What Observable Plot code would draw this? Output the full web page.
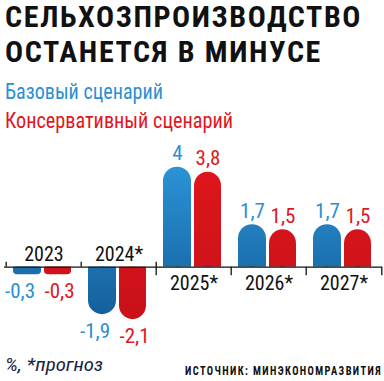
<!DOCTYPE html>
<html><head><meta charset="utf-8">
<script src="https://cdn.jsdelivr.net/npm/d3@7"></script>
<script src="https://cdn.jsdelivr.net/npm/@observablehq/plot@0.6"></script>
<style>
html,body{margin:0;padding:0;background:#fff;}
#wrap{position:relative;width:384px;height:381px;font-family:"Roboto Condensed","Liberation Sans Narrow",Roboto,sans-serif;}
#chart svg{position:absolute;left:0;top:0;}
.t{position:absolute;white-space:nowrap;line-height:1;transform-origin:left top;}
#t1,#t2{left:5px;font-size:30px;font-weight:700;letter-spacing:0.5px;color:#111;}
#t1{top:1.5px;} #t2{top:36.5px;}
#l1{left:5px;top:81px;font-size:22px;color:#2b8fd3;}
#l2{left:5px;top:110px;font-size:22px;color:#e2161d;}
#f1{left:5px;top:356px;font-size:18px;font-style:italic;color:#1b2440;}
#f2{left:185px;top:365px;font-size:12px;font-weight:700;letter-spacing:1.6px;color:#111;}
</style></head><body>
<div id="wrap">
  <div id="chart"></div>
  <div class="t" id="t1">СЕЛЬХОЗПРОИЗВОДСТВО</div>
  <div class="t" id="t2">ОСТАНЕТСЯ В МИНУСЕ</div>
  <div class="t" id="l1">Базовый сценарий</div>
  <div class="t" id="l2">Консервативный сценарий</div>
  <div class="t" id="f1">%, *прогноз</div>
  <div class="t" id="f2">ИСТОЧНИК: МИНЭКОНОМРАЗВИТИЯ</div>
</div>
<script>
const years = ["2023", "2024", "2025", "2026", "2027"];
const yearLabels = ["2023", "2024*", "2025*", "2026*", "2027*"];
const baseValues = [-0.3, -1.9, 4, 1.7, 1.7];
const consValues = [-0.3, -2.1, 3.8, 1.5, 1.5];

const F = "'Roboto Condensed','Liberation Sans Narrow',Roboto,sans-serif";
const fmt = v => String(v).replace(".", ",");
const base = years.map((year, i) => ({year, v: baseValues[i]}));
const cons = years.map((year, i) => ({year, v: consValues[i]}));
const cats = years.map((year, i) => ({year, label: yearLabels[i], v: baseValues[i]}));

const W = 384, H = 381, ML = 4, MR = 2;
const bw = (W - ML - MR) / years.length;

const bounds = d3.range(years.length + 1).map(b => {
  const adj = [baseValues[b - 1], baseValues[b]].filter(v => v !== undefined);
  return {year: years[Math.min(b, years.length - 1)], last: b === years.length,
          up: adj.some(v => v < 0), down: adj.some(v => v > 0)};
});

const defs = () => {
  const ns = "http://www.w3.org/2000/svg";
  const d = document.createElementNS(ns, "defs");
  d.innerHTML =
    '<linearGradient id="gBlue" gradientUnits="userSpaceOnUse" x1="0" y1="160" x2="0" y2="325">' +
    '<stop offset="0" stop-color="#2c95d8"/><stop offset="1" stop-color="#135c97"/></linearGradient>' +
    '<linearGradient id="gRed" gradientUnits="userSpaceOnUse" x1="0" y1="160" x2="0" y2="325">' +
    '<stop offset="0" stop-color="#de161c"/><stop offset="1" stop-color="#c81119"/></linearGradient>';
  return d;
};

const bars = (data, fill, insetLeft, insetRight) => [
  Plot.barY(data.filter(d => Math.abs(d.v) >= 1), {x: "year", y1: 0, y2: "v", fill, insetLeft, insetRight, rx: 14}),
  Plot.barY(data.filter(d => Math.abs(d.v) < 1), {x: "year", y1: 0, y2: "v", fill, insetLeft, insetRight, rx: 4}),
  Plot.barY(data, {x: "year", y1: 0, y2: d => d.v / 2, fill, insetLeft, insetRight})
];

const valueText = (data, color, dxPos, dxNeg) => [
  Plot.text(data.filter(d => d.v >= 0), {x: "year", y: "v", text: d => fmt(d.v), dx: dxPos, dy: -7,
    lineAnchor: "bottom", fill: color, fontSize: 21, fontFamily: F}),
  Plot.text(data.filter(d => d.v < 0), {x: "year", y: "v", text: d => fmt(d.v), dx: dxNeg, dy: 8,
    lineAnchor: "top", fill: color, fontSize: 21, fontFamily: F})
];

const chart = Plot.plot({
  width: W, height: H,
  marginLeft: ML, marginRight: MR, marginTop: 0, marginBottom: 0,
  x: {type: "band", domain: years, padding: 0, axis: null},
  y: {domain: [-4, 4], range: [366.7, 166.7], axis: null},
  style: {background: "transparent", overflow: "visible"},
  marks: [
    defs,
    ...bars(base, "url(#gBlue)", 7, 40),
    ...bars(cons, "url(#gRed)", 38, 10),
    Plot.ruleY([0], {stroke: "#111", strokeWidth: 1.3}),
    Plot.ruleX(bounds.filter(d => !d.last), {x: "year", y1: d => d.up ? 0.2 : 0, y2: d => d.down ? -0.34 : 0,
      dx: -bw / 2, stroke: "#111", strokeWidth: 1.3}),
    Plot.ruleX(bounds.filter(d => d.last), {x: "year", y1: d => d.up ? 0.2 : 0, y2: d => d.down ? -0.34 : 0,
      dx: bw / 2, stroke: "#111", strokeWidth: 1.3}),
    Plot.text(cats.filter(d => d.v < 0), {x: "year", y: 0, text: "label", dy: -6, lineAnchor: "bottom",
      fill: "#111", fontSize: 20, fontFamily: F}),
    Plot.text(cats.filter(d => d.v >= 0), {x: "year", y: 0, text: "label", dy: 9, lineAnchor: "top",
      fill: "#111", fontSize: 20, fontFamily: F}),
    ...valueText(base, "#2b8fd3", -16.5, -24),
    ...valueText(cons, "#e2161d", 14, 15.5)
  ]
});
document.getElementById("chart").appendChild(chart);

// fit header/footer texts to the widths they occupy in the reference
const spacingTargets = {t1: 357, t2: 317};
const scaleTargets = {l1: 158, l2: 228, f1: 98, f2: 197};
function fitAll() {
  for (const [id, w] of Object.entries(spacingTargets)) {
    const el = document.getElementById(id);
    el.style.letterSpacing = "0px";
    const n = el.getBoundingClientRect().width;
    const len = el.textContent.length;
    if (n > 0) el.style.letterSpacing = Math.min(3, (w - n) / len) + "px";
  }
  for (const [id, w] of Object.entries(scaleTargets)) {
    const el = document.getElementById(id);
    el.style.transform = "none";
    const n = el.getBoundingClientRect().width;
    if (n > 0) el.style.transform = `scaleX(${w / n})`;
  }
}
fitAll();
if (document.fonts && document.fonts.ready) document.fonts.ready.then(fitAll);
</script>
</body></html>
